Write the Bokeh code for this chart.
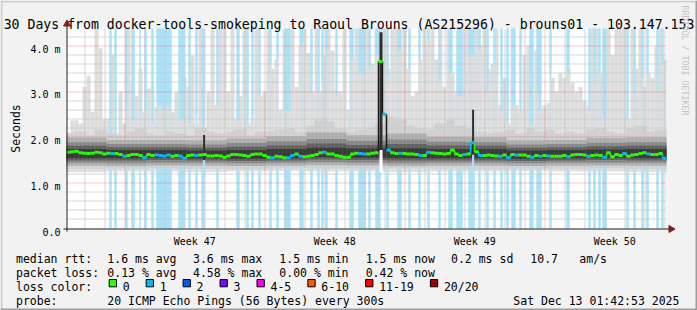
import math
from bokeh.plotting import figure
from bokeh.models import Range1d
from bokeh.core.properties import value
from bokeh.embed import file_html
from bokeh.resources import INLINE

# ------------------------------------------------------------------ texts
TITLE = "30 Days from docker-tools-smokeping to Raoul Brouns (AS215296) - brouns01 - 103.147.153"
Y_LABEL = "Seconds"
WATERMARK = "RRDTOOL / TOBI OETIKER"

# ------------------------------------------------------------------ axes data
n_days = 30                      # graph spans 30 days
y_top = 4.38                     # ms at top of the canvas
y_ticks = [0, 1, 2, 3, 4]
y_tick_labels = ["0.0", "1.0 m", "2.0 m", "3.0 m", "4.0 m"]
y_minor_step = 0.2
week_labels = ["Week 47", "Week 48", "Week 49", "Week 50"]
week_start = [2.915, 9.915, 16.915, 23.915]   # Monday 00:00, days from graph start
first_midnight = 0.915

# ------------------------------------------------------------------ series (ms), one value per 0.2 day
col_days = 0.2
median_ms = [
    1.67, 1.68, 1.69, 1.66, 1.65, 1.64, 1.65, 1.67, 1.66, 1.63,
    1.65, 1.64, 1.64, 1.62, 1.58, 1.60, 1.62, 1.62, 1.60, 1.55,
    1.62, 1.60, 1.61, 1.60, 1.59, 1.61, 1.58, 1.60, 1.59, 1.54,
    1.60, 1.61, 1.60, 1.61, 1.62, 1.59, 1.59, 1.60, 1.59, 1.56,
    1.59, 1.62, 1.62, 1.61, 1.60, 1.58, 1.62, 1.63, 1.63, 1.60,
    1.56, 1.55, 1.58, 1.57, 1.55, 1.55, 1.60, 1.63, 1.58, 1.57,
    1.58, 1.60, 1.62, 1.66, 1.67, 1.63, 1.63, 1.60, 1.58, 1.56,
    1.56, 1.63, 1.65, 1.64, 1.63, 1.63, 1.65, 1.66, 3.66, 2.50,
    1.72, 1.66, 1.64, 1.65, 1.64, 1.63, 1.63, 1.62, 1.60, 1.60,
    1.67, 1.66, 1.65, 1.64, 1.63, 1.64, 1.72, 1.63, 1.60, 1.62,
    1.63, 1.88, 1.68, 1.60, 1.60, 1.61, 1.60, 1.59, 1.58, 1.61,
    1.55, 1.62, 1.61, 1.61, 1.61, 1.58, 1.56, 1.60, 1.58, 1.60,
    1.59, 1.58, 1.58, 1.58, 1.60, 1.57, 1.61, 1.62, 1.62, 1.61,
    1.58, 1.60, 1.61, 1.60, 1.56, 1.66, 1.57, 1.62, 1.60, 1.64,
    1.58, 1.61, 1.62, 1.64, 1.66, 1.63, 1.62, 1.62, 1.64, 1.54,
]
median_loss = [
    0, 0, 0, 0, 0, 0, 0, 0, 0, 0,
    0, 1, 0, 0, 1, 0, 0, 0, 0, 1,
    0, 0, 1, 1, 1, 1, 0, 0, 1, 1,
    0, 0, 1, 0, 0, 0, 0, 0, 0, 0,
    0, 0, 0, 0, 0, 0, 0, 0, 0, 0,
    0, 1, 0, 0, 0, 1, 1, 0, 1, 0,
    0, 0, 0, 0, 1, 0, 0, 0, 0, 0,
    0, 0, 0, 1, 1, 0, 0, 0, 0, 1,
    1, 0, 0, 1, 0, 0, 0, 0, 1, 0,
    1, 0, 0, 0, 0, 0, 0, 0, 0, 1,
    0, 1, 0, 1, 0, 0, 0, 0, 1, 0,
    1, 0, 1, 0, 0, 0, 1, 0, 1, 0,
    1, 0, 0, 0, 0, 1, 0, 0, 0, 0,
    1, 0, 0, 0, 1, 0, 0, 0, 0, 1,
    0, 0, 0, 0, 0, 1, 0, 0, 0, 1,
]
smoke_max = [
    2.10, 2.37, 2.37, 2.30, 3.10, 3.35, 2.55, 4.50, 3.95, 2.40,
    2.40, 3.80, 2.10, 3.00, 2.30, 4.50, 3.20, 2.90, 3.50, 2.55,
    3.06, 3.10, 2.66, 2.70, 2.60, 2.70, 2.55, 2.99, 2.40, 3.31,
    3.10, 3.79, 2.30, 4.50, 2.20, 3.00, 4.50, 2.70, 4.50, 4.50,
    3.00, 4.50, 2.40, 2.90, 4.50, 2.30, 2.40, 4.50, 2.90, 3.00,
    4.50, 3.50, 3.70, 2.60, 4.50, 2.60, 4.50, 3.10, 4.00, 4.50,
    3.85, 3.00, 4.50, 3.00, 3.80, 4.50, 3.90, 3.00, 3.00, 4.50,
    2.60, 3.70, 4.50, 3.40, 4.50, 4.50, 3.60, 4.50, 4.50, 4.50,
    3.50, 4.50, 4.50, 3.90, 4.50, 3.50, 2.90, 3.00, 3.70, 4.50,
    4.10, 4.50, 3.70, 4.50, 3.10, 4.50, 3.40, 3.00, 3.20, 4.50,
    4.50, 3.80, 4.50, 4.00, 4.50, 3.50, 3.60, 4.50, 2.70, 3.30,
    2.30, 4.50, 2.70, 2.60, 3.80, 4.00, 2.30, 3.90, 2.60, 2.70,
    2.75, 3.30, 3.00, 3.40, 3.30, 3.50, 3.20, 3.00, 3.10, 2.80,
    2.70, 4.50, 4.50, 3.40, 2.40, 4.50, 3.80, 4.50, 4.50, 4.50,
    2.40, 4.50, 3.50, 4.50, 3.10, 3.40, 3.30, 4.00, 4.50, 3.70,
]

# smoke quantiles (ms), one value per 2 days
band_days = 2.0
smoke_p1 = [1.24, 1.25, 1.25, 1.24, 1.25, 1.26, 1.25, 1.25, 1.24, 1.25, 1.25, 1.26, 1.25, 1.25, 1.24]
smoke_p2 = [1.31, 1.31, 1.32, 1.31, 1.30, 1.32, 1.31, 1.31, 1.32, 1.31, 1.30, 1.31, 1.31, 1.32, 1.31]
smoke_p4 = [1.38, 1.37, 1.38, 1.38, 1.37, 1.38, 1.39, 1.38, 1.37, 1.38, 1.38, 1.37, 1.38, 1.38, 1.38]
smoke_p6 = [1.44, 1.43, 1.44, 1.44, 1.43, 1.44, 1.45, 1.44, 1.43, 1.44, 1.44, 1.43, 1.44, 1.44, 1.44]
smoke_p8 = [1.49, 1.49, 1.50, 1.49, 1.48, 1.49, 1.51, 1.50, 1.49, 1.49, 1.49, 1.48, 1.49, 1.50, 1.49]
smoke_p9 = [1.54, 1.54, 1.55, 1.54, 1.53, 1.54, 1.56, 1.55, 1.54, 1.54, 1.54, 1.53, 1.54, 1.55, 1.54]
smoke_p12 = [1.74, 1.72, 1.72, 1.71, 1.72, 1.74, 1.77, 1.75, 1.76, 1.74, 1.74, 1.71, 1.72, 1.73, 1.74]
smoke_p14 = [1.81, 1.78, 1.78, 1.77, 1.79, 1.82, 1.86, 1.83, 1.85, 1.82, 1.81, 1.77, 1.78, 1.80, 1.81]
smoke_p16 = [1.89, 1.85, 1.85, 1.84, 1.87, 1.91, 1.96, 1.92, 1.95, 1.90, 1.89, 1.84, 1.85, 1.88, 1.89]
smoke_p18 = [1.99, 1.94, 1.94, 1.93, 1.97, 2.02, 2.10, 2.04, 2.08, 2.01, 2.00, 1.93, 1.94, 1.98, 2.00]
# second-highest ping (ms), one value per half day
p19_days = 0.5
smoke_p19 = [
    2.08, 2.12, 2.05, 2.16, 2.08, 2.04, 2.12, 2.20, 2.08, 2.04,
    2.12, 2.08, 2.04, 2.20, 2.12, 2.08, 2.12, 2.16, 2.04, 2.12,
    2.12, 2.16, 2.20, 2.12, 2.25, 2.40, 2.35, 2.20, 2.12, 2.16,
    2.20, 2.30, 2.45, 2.38, 2.25, 2.20, 2.16, 2.30, 2.38, 2.25,
    2.20, 2.12, 2.08, 2.12, 2.16, 2.08, 2.20, 2.12, 2.16, 2.08,
    2.12, 2.08, 2.16, 2.20, 2.12, 2.08, 2.20, 2.25, 2.12, 2.16,
]

# periods with one lost ping (days) and the level above which no smoke is drawn (ms)
loss_start = [2.15, 2.40, 2.95, 3.25, 3.65, 3.90, 4.25, 4.50, 5.60, 6.10,
              6.45, 6.75, 7.50, 8.50, 9.00, 9.25, 9.60, 10.15, 10.50, 10.90,
              11.65, 12.20, 12.55, 12.75, 12.95, 13.45, 14.15, 14.60, 15.10, 15.45,
              16.00, 16.55, 17.10, 17.60, 18.05, 18.60, 19.10, 19.50, 20.10, 20.60,
              21.00, 21.35, 21.70, 22.00, 22.25, 22.65, 23.15, 23.50, 24.15, 25.00,
              26.10, 26.35, 26.60, 26.80, 28.00, 28.35, 28.75, 29.00, 29.50, 29.75]
loss_end = [2.25, 2.50, 3.05, 3.40, 3.70, 4.00, 4.35, 5.25, 5.90, 6.20,
            6.55, 6.90, 7.60, 8.65, 9.10, 9.35, 9.70, 10.25, 10.60, 11.20,
            11.85, 12.30, 12.65, 12.85, 13.05, 13.55, 14.35, 14.95, 15.20, 15.70,
            16.10, 16.75, 17.20, 17.70, 18.15, 18.70, 19.30, 19.80, 20.40, 20.70,
            21.10, 21.45, 21.80, 22.10, 22.45, 22.75, 23.35, 23.75, 24.25, 25.15,
            26.20, 26.45, 26.70, 27.00, 28.10, 28.45, 28.85, 29.10, 29.60, 29.85]
loss_top = [2.05, 2.05, 2.70, 2.40, 2.30, 2.60, 2.30, 2.80, 2.40, 2.30,
            2.50, 2.30, 2.70, 2.40, 2.30, 2.40, 2.90, 3.60, 3.70, 2.60,
            4.10, 3.00, 3.00, 3.20, 3.90, 2.90, 3.70, 3.40, 3.50, 3.80,
            3.30, 3.90, 3.50, 3.70, 4.10, 3.20, 3.40, 2.90, 3.80, 3.90,
            3.00, 3.60, 2.60, 2.30, 2.70, 2.60, 2.30, 3.00, 3.50, 3.40,
            2.60, 3.20, 3.40, 2.50, 2.40, 3.00, 3.30, 3.40, 3.00, 3.60]

# short latency spikes (days, ms)
spike_start = [6.83, 15.65, 20.28]
spike_end = [6.93, 15.80, 20.38]
spike_bottom = [1.50, 1.72, 1.62]
spike_top = [2.05, 4.30, 2.60]

# legend
rtt_items = ["median rtt:", "1.6 ms avg", "3.6 ms max", "1.5 ms min", "1.5 ms now", "0.2 ms sd", "10.7", "am/s"]
loss_items = ["packet loss:", "0.13 % avg", "4.58 % max", "0.00 % min", "0.42 % now"]
loss_color_title = "loss color:"
loss_color_labels = ["0", "1", "2", "3", "4-5", "6-10", "11-19", "20/20"]
loss_colors = ["#26ff00", "#00b8ff", "#0059ff", "#7e00ff", "#ff00ff", "#ff5500", "#ff0000", "#a00000"]
probe_items = ["probe:", "20 ICMP Echo Pings (56 Bytes) every 300s"]
timestamp = "Sat Dec 13 01:42:53 2025"

# ------------------------------------------------------------------ layout
FONT = value("DejaVu Sans Mono")
W, H = 697, 310
PL, PR, PT, PB = 66, 666, 28, 228
PXD = (PR - PL) / n_days
PXM = (PB - PT) / y_top


def dx(px):
    return (px - PL) / PXD


def dy(py):
    return (PB - py) / PXM


def snap_y(v):
    py = PB - v * PXM
    return dy(math.floor(py) + 0.5)


def snap_x(v):
    px = PL + v * PXD
    return dx(math.floor(px) + 0.5)


def at(arr, width, x):
    i = int(x // width)
    return arr[max(0, min(len(arr) - 1, i))]


p = figure(width=W, height=H, x_range=Range1d(dx(0), dx(W)), y_range=Range1d(dy(H), dy(0)),
           output_backend="svg", toolbar_location=None, min_border=0,
           x_axis_location=None, y_axis_location=None, title=None,
           background_fill_color="#f2f2f2", border_fill_color="#f2f2f2",
           outline_line_color=None)
p.grid.visible = False

BG = "#ffffff"
LOSS_BG = "#a9e3fa"

n = len(median_ms)
lefts = [i * col_days for i in range(n)]
rights = [l + col_days for l in lefts]
mids = [l + col_days / 2 for l in lefts]

# canvas
p.quad(left=[0], right=[n_days], bottom=[0], top=[y_top], fill_color=BG, line_color=None)
# loss background (full height)
p.quad(left=loss_start, right=loss_end, bottom=0, top=y_top, fill_color=LOSS_BG, line_color=None)
# outer smoke band (min .. max)
p.quad(left=lefts, right=rights,
       bottom=[at(smoke_p1, band_days, m) for m in mids],
       top=[min(v, y_top) for v in smoke_max],
       fill_color="#dddddd", line_color=None)
# where a ping is lost the outer band is missing
lmid = [(a + b) / 2 for a, b in zip(loss_start, loss_end)]
p.quad(left=loss_start, right=loss_end, bottom=0,
       top=[at(smoke_p2, band_days, m) for m in lmid], fill_color=LOSS_BG, line_color=None)
p.quad(left=loss_start, right=loss_end, bottom=[min(t, y_top) for t in loss_top],
       top=y_top, fill_color=LOSS_BG, line_color=None)

inner = [
    (smoke_p2, band_days, smoke_p19, p19_days, "#d0d0d0"),
    (smoke_p4, band_days, smoke_p18, band_days, "#adadad"),
    (smoke_p6, band_days, smoke_p16, band_days, "#878787"),
    (smoke_p8, band_days, smoke_p14, band_days, "#606060"),
    (smoke_p9, band_days, smoke_p12, band_days, "#3a3a3a"),
]


def draw_band(lo, lw, hi, hw, col):
    bot = [at(lo, lw, m) for m in mids]
    top = [max(b, min(at(hi, hw, m), sm, y_top)) for b, m, sm in zip(bot, mids, smoke_max)]
    p.quad(left=lefts, right=rights, bottom=bot, top=top, fill_color=col, line_color=None)


draw_band(*inner[0])

# ------------------------------------------------------------------ grid (under the dense smoke)
n_minor = int(round(y_top / y_minor_step))
minor_y = [k * y_minor_step for k in range(1, n_minor + 1)]
minor_y = [snap_y(v) for v in minor_y if abs(v - round(v)) > 1e-6 and v < y_top]
major_y = [snap_y(t) for t in y_ticks if 0 < t < y_top]
day_lines = [first_midnight + k for k in range(n_days) if first_midnight + k < n_days]
minor_x = [snap_x(d) for d in day_lines if min(abs(d - w) for w in week_start) > 1e-6]
major_x = [snap_x(w) for w in week_start]

GRID = "#8f8f8f"
MGRID = "#de4f4f"
p.segment(x0=0, x1=n_days, y0=minor_y, y1=minor_y, line_color="white", line_dash="1 1",
          line_dash_offset=1, line_width=1)
p.segment(x0=0, x1=n_days, y0=minor_y, y1=minor_y, line_color=GRID, line_alpha=0.75,
          line_dash="1 1", line_width=1)
p.segment(x0=minor_x, x1=minor_x, y0=0, y1=y_top, line_color="white", line_dash="1 1",
          line_dash_offset=1, line_width=1)
p.segment(x0=minor_x, x1=minor_x, y0=0, y1=y_top, line_color=GRID, line_alpha=0.75,
          line_dash="1 1", line_width=1)
p.segment(x0=0, x1=n_days, y0=major_y, y1=major_y, line_color=MGRID, line_alpha=0.6,
          line_dash="1 1", line_width=1)
p.segment(x0=major_x, x1=major_x, y0=0, y1=y_top, line_color=MGRID, line_alpha=0.6,
          line_dash="1 1", line_width=1)

for band in inner[1:]:
    draw_band(*band)


def mostly_lossy(a, b):
    ov = sum(max(0.0, min(b, e) - max(a, s)) for s, e in zip(loss_start, loss_end))
    return ov >= (b - a) / 2


sp_bg = [LOSS_BG if mostly_lossy(a, b) else BG for a, b in zip(spike_start, spike_end)]
p.quad(left=spike_start, right=spike_end,
       bottom=[at(smoke_p1, band_days, (a + b) / 2) - 0.02 for a, b in zip(spike_start, spike_end)],
       top=spike_bottom, fill_color=sp_bg, line_color=None)
p.quad(left=spike_start, right=spike_end, bottom=spike_bottom,
       top=[min(t, y_top) for t in spike_top], fill_color="#2e2e2e", line_color=None)

# ------------------------------------------------------------------ median line
med_colors = [loss_colors[k] for k in median_loss]
conn_colors = [("#1a1a1a" if abs(b - a) > 0.3 else c)
               for a, b, c in zip(median_ms[:-1], median_ms[1:], med_colors[1:])]
p.segment(x0=lefts[1:], x1=lefts[1:], y0=median_ms[:-1], y1=median_ms[1:],
          line_color=conn_colors, line_width=1.5)
p.segment(x0=lefts, x1=rights, y0=median_ms, y1=median_ms, line_color=med_colors, line_width=3)

# ------------------------------------------------------------------ axes
AXIS = "#1f1f1f"
ARROW = "#801f1f"
ax_x = dx(66.5)
ax_y = dy(228.5)
p.segment(x0=[ax_x], x1=[ax_x], y0=[dy(231)], y1=[dy(24)], line_color=AXIS, line_width=1)
p.segment(x0=[dx(63)], x1=[dx(669)], y0=[ax_y], y1=[ax_y], line_color=AXIS, line_width=1)
p.scatter(x=[ax_x], y=[dy(23.5)], marker="triangle", size=7, fill_color=ARROW, line_color=ARROW)
p.scatter(x=[dx(670.5)], y=[ax_y], marker="triangle", size=7, angle=-math.pi / 2,
          fill_color=ARROW, line_color=ARROW)


def txt(x, y, s, size, align="left", baseline="alphabetic", angle=0.0, color="#000000"):
    p.text(x=[x], y=[y], text=[s], text_font=FONT, text_font_size=size, text_align=align,
           text_baseline=baseline, angle=angle, text_color=color)


# y tick labels
for t, lab in zip(y_ticks, y_tick_labels):
    txt(dx(60), t - 3.3 / PXM, lab, "10px", align="right")
# week labels (centred in their week)
for w, lab in zip(week_start, week_labels):
    txt(w + 3.5, dy(240.6), lab, "10px", align="center")
# unit label
txt(dx(15.3), dy(128), Y_LABEL, "11.5px", align="center", angle=math.pi / 2)
# title
txt(dx(W / 2), dy(23.5), TITLE, "13.2px", align="center")
# watermark
txt(dx(684.5), dy(5), WATERMARK, "8.3px", align="left", angle=-math.pi / 2, color="#c4c4c4")

# legend
LEG = "11.5px"
row_base = [258.3, 272.3, 286.3, 300.0]
col_x = [16, 107.3, 193.0, 279.3, 365.7, 451.0, 530.3, 579.3]
for s, xp in zip(rtt_items, col_x):
    txt(dx(xp - 0.5), dy(row_base[0]), s, LEG)
for s, xp in zip(loss_items, col_x):
    txt(dx(xp - 0.5), dy(row_base[1]), s, LEG)
txt(dx(15.5), dy(row_base[2]), loss_color_title, LEG)
box_l = []
xb = 108.7
for lab in loss_color_labels:
    box_l.append(xb)
    xb += 14 + len(lab) * 6.95 + 16
p.quad(left=[dx(b) for b in box_l], right=[dx(b + 7.3) for b in box_l],
       bottom=dy(286.3), top=dy(279.0), fill_color=loss_colors, line_color="#000000", line_width=1)
for b, lab in zip(box_l, loss_color_labels):
    txt(dx(b + 13.5), dy(row_base[2]), lab, LEG)
txt(dx(15.5), dy(row_base[3]), probe_items[0], LEG)
txt(dx(106.8), dy(row_base[3]), probe_items[1], LEG)
txt(dx(512.8), dy(row_base[3]), timestamp, LEG)

# 3-D border
SHADE_A = "#cfcfcf"
SHADE_B = "#9e9e9e"
p.quad(left=[dx(0)], right=[dx(W)], bottom=[dy(2)], top=[dy(0)], fill_color=SHADE_A, line_color=None)
p.quad(left=[dx(0)], right=[dx(2)], bottom=[dy(H)], top=[dy(0)], fill_color=SHADE_A, line_color=None)
p.quad(left=[dx(W - 2)], right=[dx(W)], bottom=[dy(H)], top=[dy(0)], fill_color=SHADE_B, line_color=None)
p.quad(left=[dx(0)], right=[dx(W)], bottom=[dy(H)], top=[dy(H - 2)], fill_color=SHADE_B, line_color=None)

open("out.html", "w").write(file_html(p, INLINE))
